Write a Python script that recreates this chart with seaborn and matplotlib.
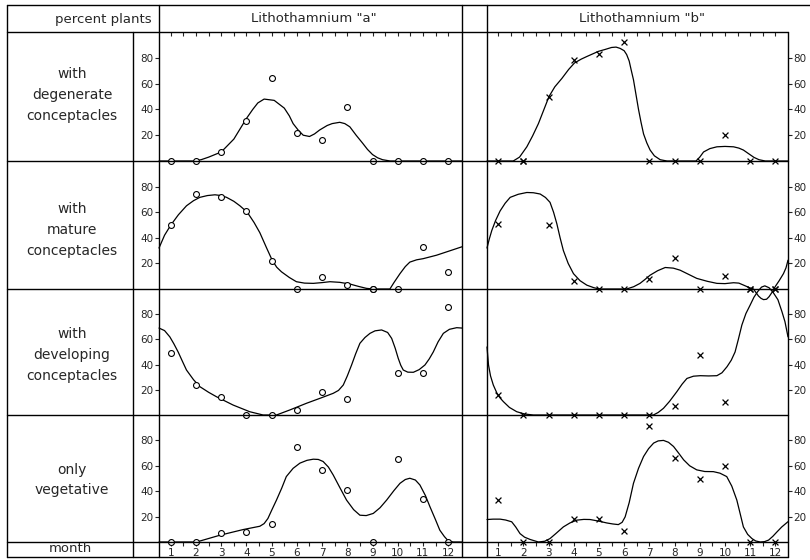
import matplotlib
matplotlib.use("Agg")
import matplotlib.pyplot as plt
from matplotlib.lines import Line2D
import seaborn as sns

# months and axis labels
months = list(range(1, 13))
month_labels = [str(m) for m in months]
y_ticks = [20, 40, 60, 80]
y_tick_labels = ["20", "40", "60", "80"]

row_labels = ["with\ndegenerate\nconceptacles", "with\nmature\nconceptacles",
              "with\ndeveloping\nconceptacles", "only\nvegetative"]
panel_titles = ['Lithothamnium "a"', 'Lithothamnium "b"']

# observed percent plants per month, Lithothamnium "a" (open circles)
a_degenerate = [0, 0, 7, 31, 64, 22, 16, 42, 0, 0, 0, 0]
a_mature = [50, 74, 72, 61, 22, 0, 9, 3, 0, 0, 33, 13]
a_developing = [49, 24, 14, 0, 0, 4, 18, 13, 100, 33, 33, 86]
a_vegetative = [0, 0, 7, 8, 14, 75, 57, 41, 0, 65, 34, 0]

# observed percent plants per month, Lithothamnium "b" (crosses)
b_degenerate = [0, 0, 50, 78, 83, 92, 0, 0, 0, 20, 0, 0]
b_mature = [51, 100, 50, 6, 0, 0, 8, 24, 0, 10, 0, 0]
b_developing = [16, 0, 0, 0, 0, 0, 0, 7, 48, 10, 100, 100]
b_vegetative = [33, 0, 0, 18, 18, 9, 91, 66, 50, 60, 0, 0]

# hand drawn trend curves (month, percent)
a_deg_curve_x = [0.53, 1.9, 2.2, 2.5, 3.0, 3.5, 4.0, 4.25, 4.45, 4.7, 5.1, 5.5, 5.7, 5.85, 6.05,
                 6.25, 6.5, 6.7, 6.9, 7.2, 7.4, 7.7, 7.9, 8.1, 8.35, 8.6, 8.8, 9.0, 9.2, 9.4,
                 9.7, 12.55]
a_deg_curve_y = [0, 0, 1, 3, 7, 17, 33, 40, 45, 48, 47, 41, 35, 29, 24,
                 20, 19, 21, 24, 27.5, 29, 30, 29, 26.5, 20, 14, 9, 5, 2.5, 1,
                 0, 0]

a_mat_curve_x = [0.53, 0.75, 1.0, 1.3, 1.62, 1.9, 2.15, 2.45, 2.75, 3.0, 3.21, 3.5, 3.74, 4.03,
                 4.3, 4.53, 4.8, 5.02, 5.2, 5.39, 5.7, 5.98, 6.3, 6.65, 7.0, 7.31, 7.7, 8.1,
                 8.45, 8.76, 9.02, 9.69, 9.85, 10.09, 10.3, 10.48, 10.75, 11.01, 11.54, 12.2,
                 12.55]
a_mat_curve_y = [32, 42, 50, 58, 65, 69, 71.6, 73, 73.6, 73, 71.6, 68.5, 65, 60,
                 52, 44, 32, 22.5, 17, 13.4, 9, 5.7, 4.6, 4.4, 5, 5.7, 5.2, 3.9,
                 2, 0.5, 0, 0, 5, 12, 17.5, 21, 22.8, 23.7, 26.4, 30.7,
                 33]

a_dev_curve_x = [0.53, 0.75, 0.96, 1.12, 1.29, 1.45, 1.62, 1.9, 2.15, 2.5, 2.81, 3.47, 4.13,
                 4.66, 5.19, 5.72, 6.38, 6.91, 7.44, 7.65, 7.84, 8.0, 8.17, 8.33, 8.5, 8.7,
                 8.9, 9.1, 9.36, 9.6, 9.76, 9.9, 10.02, 10.12, 10.22, 10.4, 10.62, 10.85,
                 11.08, 11.25, 11.41, 11.6, 11.81, 12.05, 12.34, 12.55]
a_dev_curve_y = [69, 67, 62, 56.5, 50, 43, 35.7, 28, 22.5, 18, 14.5, 7.9, 2.6,
                 0, 0, 4, 9.3, 13.2, 17.2, 19.5, 23.8, 31, 39.7, 48.5, 56.9, 61.5,
                 64.8, 66.8, 67.5, 65.5, 60.8, 53, 45, 39.5, 35.7, 34, 33.9, 36,
                 39.7, 44.5, 50, 58, 64.8, 68, 69.3, 69]

a_veg_curve_x = [0.53, 2.02, 2.94, 3.87, 4.53, 4.7, 4.85, 5.0, 5.19, 5.4, 5.58, 5.85, 6.12,
                 6.4, 6.65, 6.85, 7.04, 7.25, 7.44, 7.7, 7.97, 8.25, 8.5, 8.75, 9.03, 9.3,
                 9.56, 9.85, 10.09, 10.3, 10.48, 10.7, 10.88, 11.1, 11.28, 11.5, 11.67, 11.85,
                 12.0, 12.2, 12.55]
a_veg_curve_y = [0, 0, 5.3, 9.8, 12.4, 14.5, 18.5, 25, 33, 42.5, 51.5, 58, 62.1,
                 64.3, 65.2, 65, 63.4, 59, 52.8, 43, 33, 25.5, 21.1, 20.8, 22.5, 27,
                 33, 40.5, 46.2, 49.2, 50.2, 48.8, 44.9, 36.5, 27.7, 17.5, 9.3, 4.3,
                 1, 0, 0]

b_deg_curve_x = [0.56, 1.6, 1.85, 2.14, 2.37, 2.6, 2.8, 3.02, 3.25, 3.53, 3.8, 4.03, 4.3,
                 4.52, 4.75, 4.98, 5.25, 5.5, 5.68, 5.84, 6.0, 6.1, 6.2, 6.28, 6.37, 6.47,
                 6.57, 6.67, 6.77, 6.9, 7.03, 7.2, 7.43, 7.7, 8.85, 9.0, 9.15, 9.4, 9.68,
                 10.0, 10.34, 10.55, 10.73, 10.95, 11.15, 11.35, 11.6, 12.5]
b_deg_curve_y = [0, 0, 3, 11, 19.5, 29, 39, 50, 57.5, 64, 71, 76, 79,
                 81, 83, 85, 86.5, 88, 88.3, 87.3, 85.5, 82.5, 77.5, 70.5, 63, 51.5,
                 40, 30, 21, 14, 8.5, 4, 1, 0, 0, 3, 7, 9.6, 11,
                 11.3, 11, 10, 8.5, 5.5, 2.8, 1, 0, 0]

b_mat_curve_x = [0.56, 0.65, 0.75, 0.9, 1.08, 1.28, 1.48, 1.8, 2.14, 2.4, 2.67, 2.88, 3.06,
                 3.2, 3.33, 3.46, 3.59, 3.78, 3.99, 4.25, 4.52, 4.8, 5.02, 6.1, 6.38, 6.63,
                 6.83, 7.03, 7.33, 7.63, 7.95, 8.22, 8.55, 8.88, 9.3, 9.68, 10.0, 10.34, 10.55,
                 10.73, 10.95, 11.13, 11.23, 11.33, 11.43, 11.53, 11.65, 11.75, 11.87, 11.99,
                 12.15, 12.32, 12.42, 12.5]
b_mat_curve_y = [32, 39, 45.7, 53.5, 61, 67, 71.6, 74, 75.4, 75.2, 74.2, 71.5, 67.7,
                 60, 51, 40, 30, 20, 12, 6.5, 3, 1, 0, 0, 1.8, 4.4,
                 7.5, 10.8, 14.3, 16.8, 16.3, 14.7, 11.5, 8.3, 6, 4.4, 4.2, 4.9, 4.6,
                 3.1, 1.2, 0, -2.8, -5.5, -7.3, -8.3, -8, -6, -2.5, 1.8,
                 6.5, 12, 16.5, 22.5]

b_dev_curve_x = [0.56, 0.62, 0.7, 0.81, 0.95, 1.08, 1.21, 1.45, 1.74, 2.05, 2.4, 7.16, 7.35,
                 7.56, 7.8, 8.09, 8.3, 8.49, 8.75, 9.02, 9.35, 9.68, 9.88, 10.08, 10.25, 10.4,
                 10.53, 10.67, 10.83, 11.0, 11.15, 11.3, 11.45, 11.58, 11.75, 11.92, 12.1,
                 12.26, 12.38, 12.5]
b_dev_curve_y = [54, 39.7, 31, 23.8, 17.5, 13.5, 10.6, 6, 2.6, 0.8, 0, 0, 2,
                 5.3, 10.8, 18.5, 24.5, 29, 30.8, 31.2, 31, 31.2, 33.5, 38.3, 43.5, 50,
                 60, 71.4, 80.5, 87.3, 93.5, 98, 101.5, 102.5, 101, 97, 91.5,
                 82, 74, 62]

b_veg_curve_x = [0.56, 0.8, 1.08, 1.3, 1.54, 1.7, 1.87, 2.05, 2.27, 2.6, 2.85, 3.06, 3.3,
                 3.59, 3.85, 4.12, 4.4, 4.65, 5.0, 5.31, 5.55, 5.77, 5.92, 6.04, 6.2, 6.37,
                 6.57, 6.77, 6.97, 7.17, 7.35, 7.56, 7.76, 7.96, 8.15, 8.36, 8.6, 8.88, 9.2,
                 9.54, 9.8, 10.07, 10.27, 10.47, 10.6, 10.73, 10.9, 11.07, 11.22, 11.4,
                 11.57, 11.73, 11.9, 12.06, 12.25, 12.5]
b_veg_curve_y = [17.7, 18, 18, 17.3, 15.9, 11.8, 6.6, 3.8, 2, 0, 0.6, 2.7, 6.8,
                 11.9, 15, 17.2, 17.8, 17.7, 16.4, 15, 14.2, 13.7, 15.5, 19.8, 31, 46.2,
                 58, 67.3, 73.5, 77.9, 79.6, 80, 78.5, 75.2, 70.3, 64.7, 60, 56.8, 55.5,
                 55.4, 54.2, 51.5, 44, 33, 22.5, 11.9, 6, 2.7, 0.8, 0,
                 0.3, 1.5, 4.5, 7.9, 11.8, 16]

points = [[a_degenerate, a_mature, a_developing, a_vegetative],
          [b_degenerate, b_mature, b_developing, b_vegetative]]
curves = [[(a_deg_curve_x, a_deg_curve_y), (a_mat_curve_x, a_mat_curve_y),
           (a_dev_curve_x, a_dev_curve_y), (a_veg_curve_x, a_veg_curve_y)],
          [(b_deg_curve_x, b_deg_curve_y), (b_mat_curve_x, b_mat_curve_y),
           (b_dev_curve_x, b_dev_curve_y), (b_veg_curve_x, b_veg_curve_y)]]

sns.set_style("ticks")
plt.rcParams["font.family"] = ["DejaVu Sans"]

W, H = 810, 560
fig = plt.figure(figsize=(W / 100, H / 100), dpi=100)


def fx(px):
    return px / W


def fy(py):
    return 1 - py / H


def hline(y, x0, x1):
    fig.add_artist(Line2D([fx(x0), fx(x1)], [fy(y), fy(y)], transform=fig.transFigure,
                          color="black", linewidth=1.0))


def vline(x, y0, y1):
    fig.add_artist(Line2D([fx(x), fx(x)], [fy(y0), fy(y1)], transform=fig.transFigure,
                          color="black", linewidth=1.0))


# layout of the table in pixels
panel_left = [159, 487]
panel_right = [462, 788]
panel_xlim = [(0.53, 12.55), (0.56, 12.5)]
row_top = [32, 161, 289, 415]
row_bottom = [161, 289, 415, 542]

for p in range(2):
    for r in range(4):
        left, right = panel_left[p], panel_right[p]
        top, bottom = row_top[r], row_bottom[r]
        ax = fig.add_axes([fx(left), fy(bottom), (right - left) / W, (bottom - top) / H])
        ax.set_facecolor("none")

        cx, cy = curves[p][r]
        sns.lineplot(x=cx, y=cy, ax=ax, color="black", linewidth=0.9,
                     estimator=None, sort=False, clip_on=False)
        if p == 0:
            sns.scatterplot(x=months, y=points[p][r], ax=ax, marker="o", s=18,
                            facecolor="white", edgecolor="black", linewidth=0.8,
                            clip_on=False, zorder=3)
        else:
            sns.scatterplot(x=months, y=points[p][r], ax=ax, marker="x", s=18,
                            color="black", linewidth=0.9, clip_on=False, zorder=3)

        ax.set_xlim(*panel_xlim[p])
        ax.set_ylim(0, 100)
        ax.set_xlabel("")
        ax.set_ylabel("")
        for s in ax.spines.values():
            s.set_visible(False)

        # y ticks: left side for "a", right side for "b"
        ax.set_yticks(y_ticks)
        ax.set_yticklabels(y_tick_labels)
        if p == 0:
            ax.tick_params(axis="y", left=True, right=False, labelleft=True, labelright=False,
                           direction="out", length=3, width=0.8, pad=1, labelsize=7.5)
        else:
            ax.tick_params(axis="y", left=False, right=True, labelleft=False, labelright=True,
                           direction="out", length=3, width=0.8, pad=1, labelsize=7.5)

        # x ticks
        ax.set_xticks(months)
        ax.set_xticks([m + 0.5 for m in months[:-1]], minor=True)
        if r == 0:
            ax.tick_params(axis="x", which="both", top=True, bottom=False, labelbottom=False,
                           labeltop=False, direction="in", length=3, width=0.8)
        elif r == 3:
            ax.set_xticklabels(month_labels)
            ax.tick_params(axis="x", which="both", top=False, bottom=True, labelbottom=True,
                           direction="out", length=3, width=0.8, pad=1, labelsize=7.5)
        else:
            ax.tick_params(axis="x", which="both", top=False, bottom=False, labelbottom=False)

# table frame
hline(5, 7, 810)
hline(32, 7, 788)
for y in [161, 289, 415, 542, 557]:
    hline(y, 7, 788)
vline(7, 5, 557)
vline(133, 32, 557)
vline(159, 5, 557)
vline(462, 5, 557)
vline(487, 5, 557)
vline(788, 32, 557)

# header and row captions
fig.text(fx(103), fy(19), "percent plants", ha="center", va="center", fontsize=9.5)
fig.text(fx(314), fy(19), panel_titles[0], ha="center", va="center", fontsize=9.5)
fig.text(fx(642), fy(19), panel_titles[1], ha="center", va="center", fontsize=9.5)
row_label_y = [95, 230, 355, 480]
for label, y in zip(row_labels, row_label_y):
    fig.text(fx(72), fy(y), label, ha="center", va="center", fontsize=10, linespacing=1.6)
fig.text(fx(70), fy(549), "month", ha="center", va="center", fontsize=9.5)

fig.savefig("out.png", dpi=100)
